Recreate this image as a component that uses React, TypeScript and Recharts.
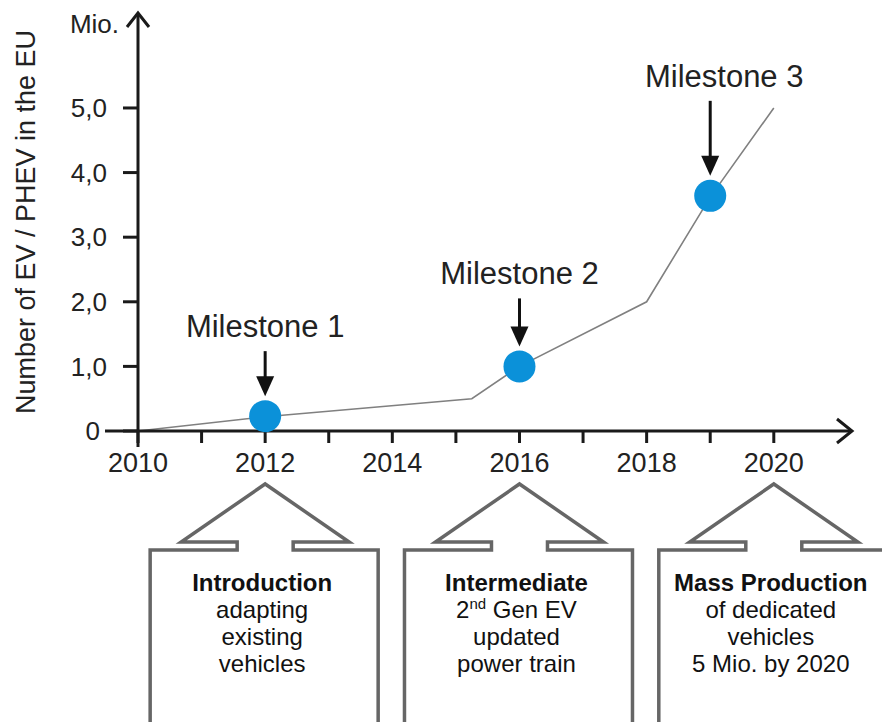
import React from 'react';
import { ComposedChart, Line, Scatter, XAxis, YAxis, ReferenceDot } from 'recharts';

// values
const lineYears = [2010, 2012, 2015.25, 2016, 2018, 2019, 2020];
const lineValues = [0, 0.22, 0.5, 1.0, 2.0, 3.62, 5.0];

const milestoneNames = ['Milestone 1', 'Milestone 2', 'Milestone 3'];
const milestoneYears = [2012, 2016, 2019];
const milestoneValues = [0.23, 1.0, 3.64];

const xTicks = [2010, 2011, 2012, 2013, 2014, 2015, 2016, 2017, 2018, 2019, 2020];
const xLabelYears = [2010, 2012, 2014, 2016, 2018, 2020];
const yTicks = [0, 1, 2, 3, 4, 5];

const phaseYears = [2012, 2016, 2020];
const phaseTitles = ['Introduction', 'Intermediate', 'Mass Production'];
const phaseLines = [
  ['adapting', 'existing', 'vehicles'],
  ['2^nd Gen EV', 'updated', 'power train'],
  ['of dedicated', 'vehicles', '5 Mio. by 2020'],
];

const lineData = lineYears.map((year, i) => ({ year, value: lineValues[i] }));
const milestoneData = milestoneYears.map((year, i) => ({ year, value: milestoneValues[i], name: milestoneNames[i] }));

// layout
const X_MAX = 2021.23;
const Y_MAX = 6.47;
const FONT = '"Liberation Sans", Arial, Helvetica, sans-serif';
const AXIS = '#1a1a1a';
const TEXT = '#222';
const BLUE = '#0b91d9';
const X_TICK_SIZE = 12;
const X_TICK_MARGIN = 10;
const Y_TICK_SIZE = 15;
const Y_TICK_MARGIN = 16;
const arrowLen: Record<string, number> = { 'Milestone 1': 45, 'Milestone 2': 48, 'Milestone 3': 75 };
const labelShift: Record<string, number> = { 'Milestone 3': 14 };

const fmtY = (v: number) => (v === 0 ? '0' : v.toFixed(1).replace('.', ','));

const YTick = (props: any) => {
  const { x, y, payload } = props;
  const axisX = x + Y_TICK_SIZE + Y_TICK_MARGIN;
  const zero = payload.value === 0;
  return (
    <g>
      {zero && <line x1={axisX - 33} x2={axisX} y1={y} y2={y} stroke={AXIS} strokeWidth={3} />}
      <text x={zero ? axisX - 38 : x} y={y} dy="0.355em" textAnchor="end" fill={TEXT} fontSize={26} fontFamily={FONT}>
        {fmtY(payload.value)}
      </text>
    </g>
  );
};

const XTick = (props: any) => {
  const { x, y, payload } = props;
  const axisY = y - X_TICK_SIZE - X_TICK_MARGIN;
  const show = xLabelYears.includes(payload.value);
  return (
    <g>
      {payload.value === xTicks[0] && (
        <line x1={x} x2={x} y1={axisY} y2={axisY + 16} stroke={AXIS} strokeWidth={3} />
      )}
      {show && (
        <text x={x} y={y} dy="0.71em" textAnchor="middle" fill={TEXT} fontSize={27} fontFamily={FONT}>
          {payload.value}
        </text>
      )}
    </g>
  );
};

const MilestoneShape = (props: any) => {
  const { cx, cy, payload } = props;
  const tip = cy - 20;
  const top = tip - arrowLen[payload.name];
  return (
    <g>
      <circle cx={cx} cy={cy} r={16} fill={BLUE} />
      <line x1={cx} x2={cx} y1={top} y2={tip - 16} stroke="#111" strokeWidth={3} />
      <path d={`M${cx - 9},${tip - 20} L${cx + 9},${tip - 20} L${cx},${tip} Z`} fill="#111" />
      <text
        x={cx + (labelShift[payload.name] || 0)}
        y={top - 14}
        textAnchor="middle"
        fill={TEXT}
        fontSize={31}
        fontFamily={FONT}
      >
        {payload.name}
      </text>
    </g>
  );
};

const ArrowRight = (props: any) => {
  const { cx, cy } = props;
  return (
    <path d={`M${cx - 15},${cy - 12} L${cx},${cy} L${cx - 15},${cy + 12}`} fill="none" stroke={AXIS} strokeWidth={3} />
  );
};

const ArrowUp = (props: any) => {
  const { cx, cy } = props;
  return (
    <g>
      <path d={`M${cx - 11},${cy + 14} L${cx},${cy} L${cx + 11},${cy + 14}`} fill="none" stroke={AXIS} strokeWidth={3} />
      <text x={cx - 19} y={cy + 20} textAnchor="end" fill={TEXT} fontSize={26} fontFamily={FONT}>
        Mio.
      </text>
    </g>
  );
};

const renderLine = (line: string, x: number, y: number, key: number) => {
  const parts = line.split(/\^(\w+)/);
  return (
    <text key={key} x={x} y={y} textAnchor="middle" fill="#111" fontSize={24} fontFamily={FONT}>
      {parts.map((p, i) =>
        i % 2 === 1 ? (
          <tspan key={i} fontSize={15} dy={-9}>
            {p}
          </tspan>
        ) : (
          <tspan key={i} dy={i > 0 ? 9 : 0}>
            {p}
          </tspan>
        )
      )}
    </text>
  );
};

const phaseShape = (idx: number) => (props: any) => {
  const { cx, cy } = props;
  const apex = cy + 53;
  const base = cy + 111;
  const notch = cy + 119;
  const bottom = cy + 320;
  const d = [
    `M${cx - 115},${bottom}`,
    `L${cx - 115},${notch}`,
    `L${cx - 28},${notch}`,
    `L${cx - 28},${base}`,
    `L${cx - 84},${base}`,
    `L${cx},${apex}`,
    `L${cx + 84},${base}`,
    `L${cx + 28},${base}`,
    `L${cx + 28},${notch}`,
    `L${cx + 113},${notch}`,
    `L${cx + 113},${bottom}`,
  ].join(' ');
  return (
    <g>
      <path d={d} fill="none" stroke="#666" strokeWidth={3.5} strokeLinejoin="miter" />
      <text x={cx - 3} y={cy + 160} textAnchor="middle" fill="#111" fontSize={24} fontWeight="bold" fontFamily={FONT}>
        {phaseTitles[idx]}
      </text>
      {phaseLines[idx].map((l, i) => renderLine(l, cx - 3, cy + 187 + i * 27, i))}
    </g>
  );
};

const App: React.FC = () => {
  return (
    <div style={{ position: 'absolute', left: 0, top: 0, width: 882, height: 722, background: '#fff' }}>
      <ComposedChart width={882} height={722} margin={{ top: 13, right: 30, bottom: 261, left: 0 }}>
        <XAxis
          type="number"
          dataKey="year"
          domain={[2010, X_MAX]}
          ticks={xTicks}
          height={30}
          tickSize={X_TICK_SIZE}
          tickMargin={X_TICK_MARGIN}
          axisLine={{ stroke: AXIS, strokeWidth: 3 }}
          tickLine={{ stroke: AXIS, strokeWidth: 3 }}
          tick={<XTick />}
          interval={0}
        />
        <YAxis
          type="number"
          domain={[0, Y_MAX]}
          ticks={yTicks}
          width={138}
          tickSize={Y_TICK_SIZE}
          tickMargin={Y_TICK_MARGIN}
          axisLine={{ stroke: AXIS, strokeWidth: 3 }}
          tickLine={{ stroke: AXIS, strokeWidth: 3 }}
          tick={<YTick />}
          interval={0}
          label={{
            value: 'Number of EV / PHEV in the EU',
            angle: -90,
            position: 'insideLeft',
            offset: 25,
            style: { fontSize: 27, fill: TEXT, fontFamily: FONT, textAnchor: 'middle' },
          }}
        />
        <Line
          data={lineData}
          dataKey="value"
          stroke="#808080"
          strokeWidth={1.6}
          dot={false}
          activeDot={false}
          isAnimationActive={false}
        />
        <Scatter data={milestoneData} dataKey="value" shape={<MilestoneShape />} isAnimationActive={false} />
        <ReferenceDot x={X_MAX} y={0} ifOverflow="visible" shape={<ArrowRight />} />
        <ReferenceDot x={2010} y={Y_MAX} ifOverflow="visible" shape={<ArrowUp />} />
        {phaseYears.map((yr, i) => (
          <ReferenceDot key={yr} x={yr} y={0} ifOverflow="visible" shape={phaseShape(i)} />
        ))}
      </ComposedChart>
    </div>
  );
};

export default App;
